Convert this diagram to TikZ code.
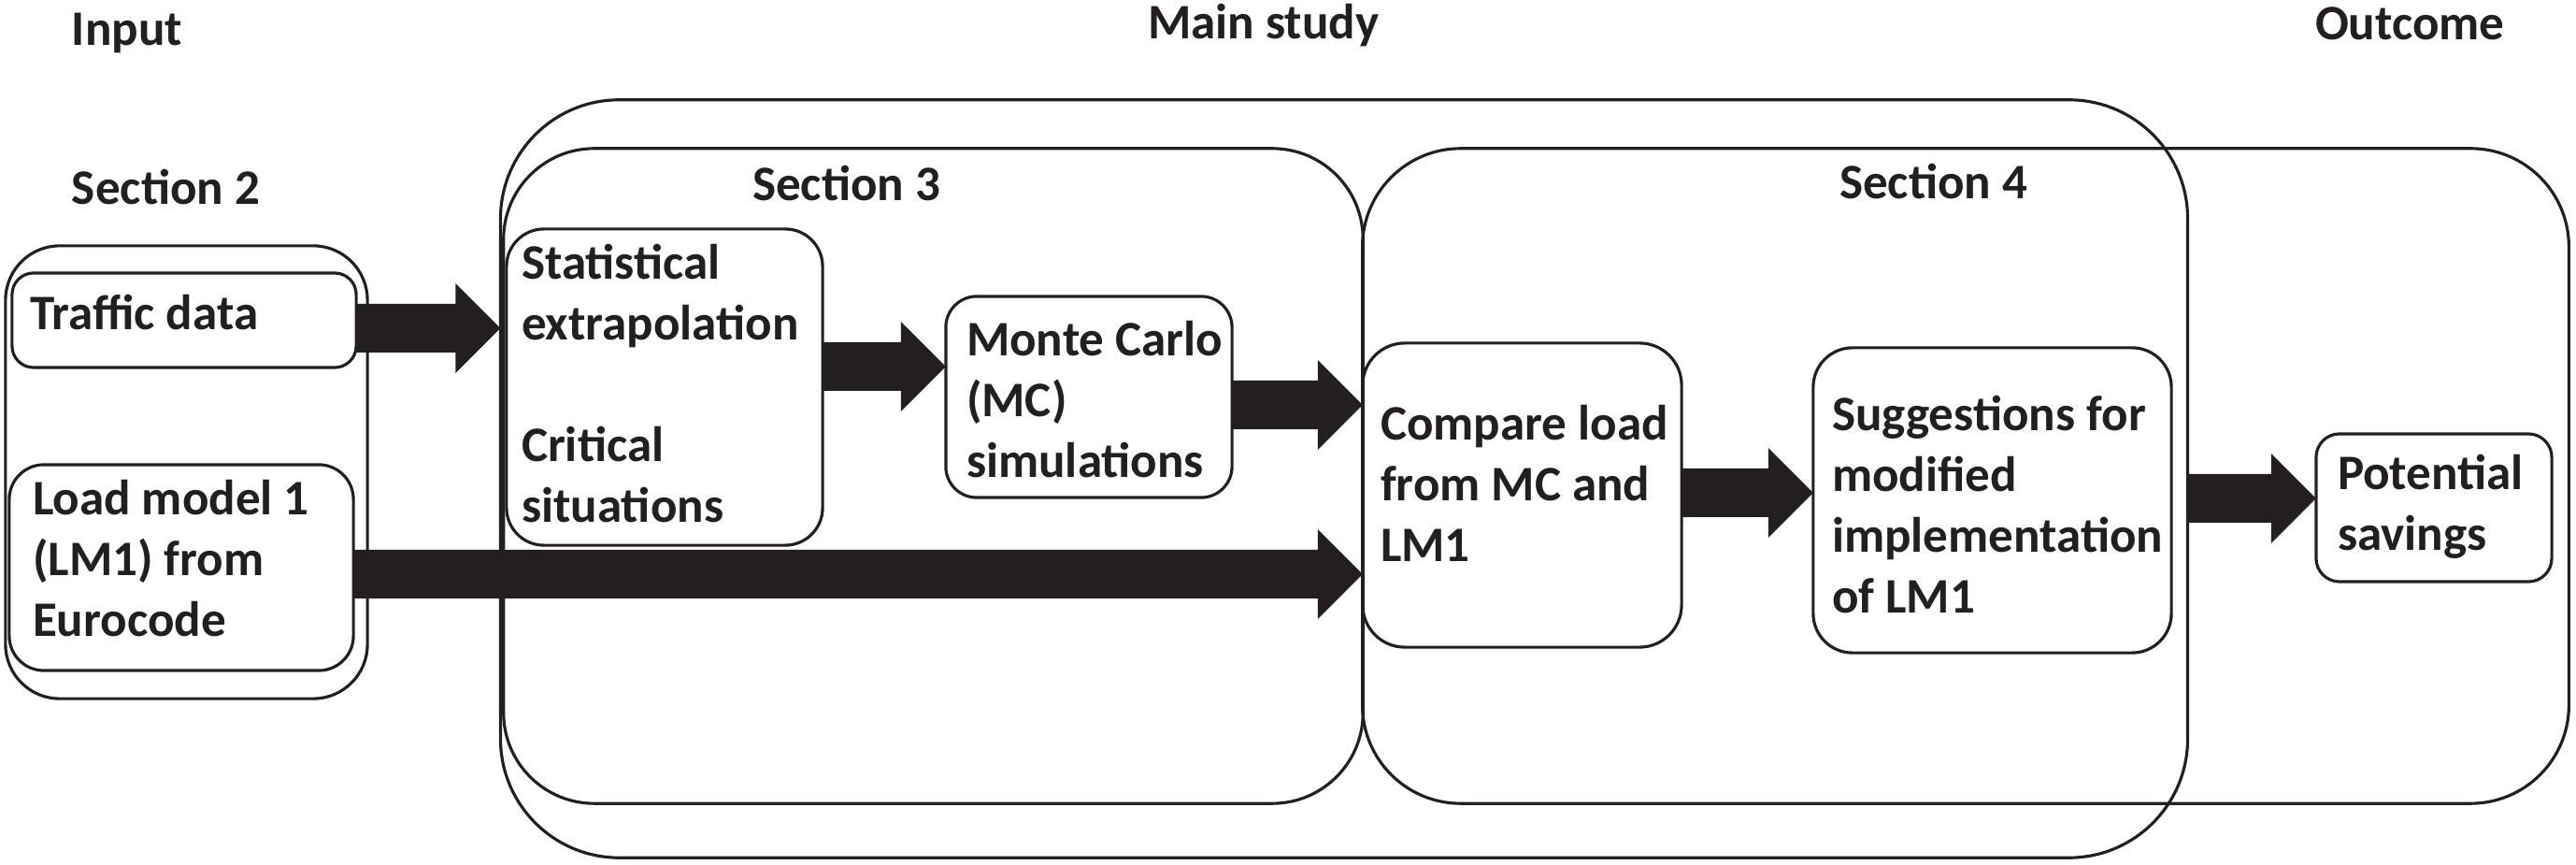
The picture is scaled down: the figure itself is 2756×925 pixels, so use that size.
\documentclass[tikz,border=0pt]{standalone}
\usepackage{fontspec}
\setmainfont{Carlito}
\usetikzlibrary{calc}
\definecolor{ink}{HTML}{231F20}
% block arrow from node #1 (east side) to node #2 (west side) at the height of coordinate #3
\newcommand\blockarrow[3]{%
  \fill[ink] ($(#1.east |- #3)+(0,26)$) -- ($(#2.west |- #3)+(-48,26)$)
    -- ($(#2.west |- #3)+(-48,48)$) -- (#2.west |- #3)
    -- ($(#2.west |- #3)+(-48,-48)$) -- ($(#2.west |- #3)+(-48,-26)$)
    -- ($(#1.east |- #3)+(0,-26)$) -- cycle;}
\begin{document}
\begin{tikzpicture}[x=0.01cm,y=-0.01cm,
  box/.style={draw=ink, line width=0.9pt, inner sep=0pt, outer sep=0pt},
  lbl/.style={inner sep=0pt, outer sep=0pt, align=left, text=ink,
              font=\fontsize{15.1pt}{18.5pt}\selectfont\bfseries}]
\useasboundingbox (0,0) rectangle (2756,925);
% containers
\node[box, minimum width=18.04cm, minimum height=8.10cm, rounded corners=1.27cm] (main) at (1438,512) {};
\node[box, minimum width=9.19cm, minimum height=7.00cm, rounded corners=0.97cm] (sec3) at (998.5,509) {};
\node[box, minimum width=12.90cm, minimum height=7.00cm, rounded corners=1.05cm] (sec4) at (2103,509) {};
\node[box, minimum width=3.87cm, minimum height=4.84cm, rounded corners=0.58cm] (sec2) at (199.5,505) {};
% inner boxes
\node[box, minimum width=3.68cm, minimum height=1.01cm, rounded corners=0.23cm] (traffic) at (197,342.5) {};
\node[box, minimum width=3.68cm, minimum height=2.20cm, rounded corners=0.37cm] (load) at (194,607) {};
\node[box, minimum width=3.38cm, minimum height=3.38cm, rounded corners=0.40cm] (stat) at (711,414) {};
\node[box, minimum width=3.06cm, minimum height=2.15cm, rounded corners=0.33cm] (mc) at (1165,424.5) {};
\node[box, minimum width=3.41cm, minimum height=3.25cm, rounded corners=0.45cm] (cmp) at (1628.5,529.5) {};
\node[box, minimum width=3.83cm, minimum height=3.26cm, rounded corners=0.42cm] (sug) at (2131.5,535) {};
\node[box, minimum width=2.52cm, minimum height=1.58cm, rounded corners=0.25cm] (pot) at (2604,543) {};
% arrow levels
\coordinate (ya) at (0,351);
\coordinate (yb) at (0,392);
\coordinate (yc) at (0,433);
\coordinate (yd) at (0,614);
\coordinate (ye) at (0,527);
\coordinate (yf) at (0,533);
\blockarrow{traffic}{main}{ya}
\blockarrow{stat}{mc}{yb}
\blockarrow{mc}{cmp}{yc}
\blockarrow{load}{cmp}{yd}
\blockarrow{cmp}{sug}{ye}
\blockarrow{main}{pot}{yf}
% titles
\node[lbl, anchor=base west] (input) at (77,49) {Input};
\node[lbl, anchor=base west] (mainT) at (1228,42) {Main study};
\node[lbl, anchor=base west] (outcome) at (2477,43) {Outcome};
\node[lbl, anchor=base west] (sec2T) at (77,219) {Section 2};
\node[lbl, anchor=base west] (sec3T) at (805,215) {Section 3};
\node[lbl, anchor=base west] (sec4T) at (1968,213) {Section 4};
% box texts
\node[lbl, anchor=north west] (trafficT) at (32,315) {Traffic data};
\node[lbl, anchor=north west] (loadT) at (35,513) {Load model 1\\(LM1) from\\Eurocode};
\node[lbl, anchor=north west] (statT) at (558,261) {Statistical\\extrapolation\\[18.5pt]Critical\\situations};
\node[lbl, anchor=north west] (mcT) at (1034,343) {Monte Carlo\\(MC)\\simulations};
\node[lbl, anchor=north west] (cmpT) at (1477,433) {Compare load\\from MC and\\LM1};
\node[lbl, anchor=north west] (sugT) at (1960,423) {Suggestions for\\modified\\implementation\\of LM1};
\node[lbl, anchor=north west] (potT) at (2501,486) {Potential\\savings};
\end{tikzpicture}
\end{document}
